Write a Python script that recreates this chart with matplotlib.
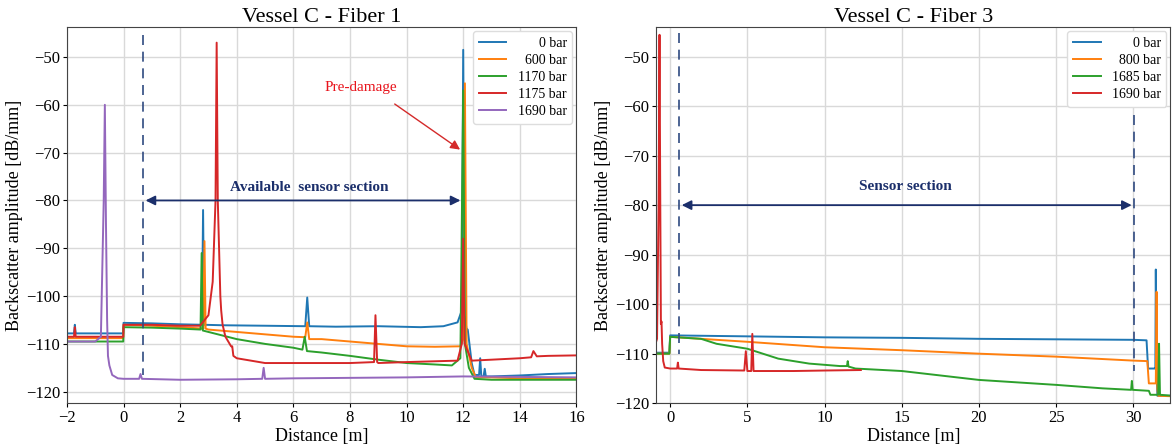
import numpy as np
import matplotlib.pyplot as plt

plt.rcParams['font.family'] = ['Liberation Serif', 'DejaVu Serif']

# ---- Fiber 1 traces (distance m, amplitude dB/mm)
f1_labels = ['0 bar', '600 bar', '1170 bar', '1175 bar', '1690 bar']

f1_0_x = [-2, -1.75, -1.72, -1.69, -0.01, 0.0, 1.0, 2.0, 2.77, 2.81, 2.85, 3.5, 5.0, 6.42, 6.49, 6.56,
          7.5, 9.0, 10.5, 11.3, 11.8, 11.95, 12.0, 12.05, 12.12, 12.16, 12.2, 12.3, 12.4, 12.56, 12.6,
          12.64, 12.72, 12.76, 12.8, 13.0, 14.0, 15.0, 16.0]
f1_0_y = [-107.8, -107.8, -106.0, -107.8, -107.8, -105.6, -105.7, -105.9, -106.0, -82.0, -106.0, -106.1,
          -106.2, -106.3, -100.3, -106.3, -106.4, -106.3, -106.5, -106.3, -105.5, -103.0, -48.5, -104.0,
          -107.0, -107.0, -109.0, -114.0, -116.5, -116.5, -113.0, -116.8, -116.8, -115.2, -116.8, -116.8,
          -116.6, -116.3, -116.1]

f1_600_x = [-2, -0.01, 0.0, 1.0, 2.0, 2.82, 2.86, 2.9, 3.0, 4.0, 5.0, 6.0, 6.42, 6.49, 6.56, 7.0, 8.0,
            9.0, 10.0, 11.0, 11.9, 12.0, 12.06, 12.12, 12.3, 12.45, 13.0, 14.0, 16.0]
f1_600_y = [-108.8, -108.8, -106.0, -106.2, -106.5, -106.8, -88.5, -106.8, -107.0, -107.5, -108.0, -108.5,
            -108.6, -105.5, -109.0, -109.0, -109.5, -110.0, -110.5, -110.6, -110.5, -109.0, -55.5, -110.0,
            -115.0, -117.0, -117.0, -117.2, -117.2]

f1_1170_x = [-2, -0.01, 0.0, 1.0, 2.0, 2.72, 2.76, 2.8, 3.0, 4.0, 5.0, 6.0, 6.32, 6.4, 6.48, 7.0, 8.0,
             9.0, 10.0, 11.0, 11.6, 11.9, 12.0, 12.06, 12.2, 12.4, 13.0, 14.0, 16.0]
f1_1170_y = [-109.5, -109.5, -106.5, -106.6, -106.8, -107.0, -91.0, -107.2, -107.5, -109.0, -110.0, -110.8,
             -111.2, -108.5, -111.5, -111.8, -112.5, -113.3, -114.0, -114.3, -114.5, -113.0, -57.0, -110.0,
             -115.0, -117.3, -117.5, -117.5, -117.5]

f1_1175_x = [-2, -1.75, -1.72, -1.69, -0.01, 0.0, 1.0, 2.0, 2.7, 3.0, 3.15, 3.25, 3.29, 3.33, 3.42, 3.45,
             3.5, 3.6, 3.8, 3.84, 3.88, 4.0, 4.5, 5.0, 8.0, 8.85, 8.9, 8.96, 9.0, 10.0, 11.8, 11.95, 12.0,
             12.05, 12.3, 13.0, 14.0, 14.4, 14.48, 14.6, 15.0, 16.0]
f1_1175_y = [-108.5, -108.5, -106.5, -108.5, -108.5, -106.0, -106.0, -106.2, -106.2, -104.0, -97.0, -80.0,
             -47.0, -80.0, -100.0, -103.0, -106.0, -108.5, -110.5, -110.5, -112.5, -113.0, -113.5, -114.0,
             -114.0, -113.8, -104.0, -113.8, -114.0, -113.8, -113.5, -110.0, -88.0, -110.0, -113.5, -113.3,
             -113.0, -112.8, -111.5, -112.6, -112.5, -112.4]

f1_1690_x = [-2, -1.0, -0.8, -0.7, -0.66, -0.62, -0.58, -0.55, -0.5, -0.4, -0.2, 0.0, 0.55, 0.6, 0.65,
             2.0, 4.0, 4.9, 4.95, 5.0, 6.0, 8.0, 10.0, 12.0, 14.0, 16.0]
f1_1690_y = [-109.5, -109.5, -108.5, -80.0, -60.0, -85.0, -105.0, -112.5, -114.5, -116.5, -117.2, -117.3,
             -117.3, -116.3, -117.3, -117.5, -117.4, -117.3, -115.0, -117.3, -117.2, -117.1, -117.0, -116.8,
             -116.9, -117.0]

# ---- Fiber 3 traces
f3_labels = ['0 bar', '800 bar', '1685 bar', '1690 bar']

f3_0_x = [-1.0, -0.05, 0.0, 5.0, 10.0, 15.0, 20.0, 25.0, 30.0, 30.85, 30.95, 31.4, 31.42, 31.45, 31.5,
          31.55, 32.5]
f3_0_y = [-109.8, -109.8, -106.3, -106.5, -106.7, -106.8, -107.0, -107.1, -107.2, -107.3, -113.0, -113.0,
          -113.0, -93.0, -113.0, -118.5, -118.5]

f3_800_x = [-1.0, -0.05, 0.0, 2.0, 5.0, 10.0, 15.0, 20.0, 25.0, 30.0, 30.9, 31.0, 31.45, 31.5, 31.55,
            31.6, 32.5]
f3_800_y = [-110.0, -110.0, -106.6, -107.0, -107.6, -108.7, -109.3, -110.0, -110.6, -111.4, -111.5, -116.0,
            -116.0, -97.5, -117.0, -118.5, -118.6]

f3_1685_x = [-1.0, -0.05, 0.0, 2.0, 3.0, 5.0, 7.0, 9.0, 11.0, 11.45, 11.5, 11.55, 12.0, 15.0, 20.0, 25.0,
             28.0, 29.85, 29.9, 29.95, 31.0, 31.1, 31.5, 31.6, 31.66, 31.72, 32.5]
f3_1685_y = [-110.0, -110.0, -106.6, -107.0, -108.0, -109.0, -111.0, -112.0, -112.5, -112.5, -111.5,
             -112.6, -113.0, -113.5, -115.3, -116.3, -117.0, -117.3, -115.5, -117.3, -117.5, -118.3,
             -118.3, -118.3, -108.0, -118.3, -118.5]

f3_1690_x = [-1.0, -0.85, -0.75, -0.69, -0.64, -0.6, -0.56, -0.52, -0.45, -0.35, 0.0, 0.45, 0.5, 0.55,
             2.0, 4.8, 4.9, 5.0, 5.25, 5.32, 5.4, 8.0, 10.0, 12.35]
f3_1690_y = [-108.5, -107.0, -80.0, -45.6, -80.0, -104.0, -103.5, -108.0, -111.5, -112.8, -113.0, -113.0,
             -111.8, -113.0, -113.3, -113.4, -109.5, -113.5, -113.5, -106.0, -113.5, -113.5, -113.4, -113.3]

fiber1 = [(f1_0_x, f1_0_y), (f1_600_x, f1_600_y), (f1_1170_x, f1_1170_y),
          (f1_1175_x, f1_1175_y), (f1_1690_x, f1_1690_y)]
fiber3 = [(f3_0_x, f3_0_y), (f3_800_x, f3_800_y), (f3_1685_x, f3_1685_y), (f3_1690_x, f3_1690_y)]

colors = ['#1f77b4', '#ff7f0e', '#2ca02c', '#d62728', '#9467bd']
navy = '#1b2f6b'

fig = plt.figure(figsize=(11.74, 4.48), dpi=100)
ax1 = fig.add_axes([0.057, 0.100, 0.434, 0.840])
ax2 = fig.add_axes([0.559, 0.100, 0.438, 0.840])


def pad(labels):
    # right-align legend labels with spaces, like the original
    w = max(len(l) for l in labels)
    return [' ' * (2 * (w - len(l))) + l for l in labels]


for ax, traces, labels in [(ax1, fiber1, f1_labels), (ax2, fiber3, f3_labels)]:
    for (x, y), lab, c in zip(traces, pad(labels), colors):
        ax.plot(x, y, color=c, lw=1.4, label=lab)
    ax.grid(True, color='#d9d9d9', lw=1.0)
    ax.set_axisbelow(True)
    ax.set_xlabel('Distance [m]', fontsize=13, labelpad=1)
    ax.set_ylabel('Backscatter amplitude [dB/mm]', fontsize=13, labelpad=2)
    ax.tick_params(labelsize=12, length=3, pad=2)
    for s in ax.spines.values():
        s.set_color('#444444')
    leg = ax.legend(loc='upper right', fontsize=10, handlelength=2.0, labelspacing=0.3,
                    borderaxespad=0.3, framealpha=1, edgecolor='#dddddd', fancybox=True)

# Fiber 1 axes
ax1.set_xlim(-2, 16)
ax1.set_ylim(-122.4, -43.7)
ax1.set_xticks(np.arange(-2, 17, 2))
ax1.set_yticks(np.arange(-120, -49, 10))
ax1.set_title('Vessel C - Fiber 1', fontsize=16, pad=3)
ax1.plot([0.68, 0.68], [-45.5, -116.5], color='#2f4a80', lw=1.2, ls=(0, (6, 4)))
ax1.annotate('', xy=(12.0, -80), xytext=(0.68, -80),
             arrowprops=dict(arrowstyle='<|-|>', color=navy, lw=1.3, mutation_scale=14))
ax1.text(6.55, -77.2, 'Available  sensor section', color=navy, fontsize=11, fontweight='bold',
         ha='center', va='center')
ax1.text(8.4, -56.3, 'Pre-damage', color='#e8141c', fontsize=11, ha='center', va='center')
ax1.annotate('', xy=(11.97, -69.7), xytext=(9.5, -59.5),
             arrowprops=dict(arrowstyle='-|>', color='#d42a2a', lw=1.0, mutation_scale=14))

# Fiber 3 axes
ax2.set_xlim(-0.9, 32.4)
ax2.set_ylim(-120, -44)
ax2.set_xticks(np.arange(0, 31, 5))
ax2.set_yticks(np.arange(-120, -49, 10))
ax2.set_title('Vessel C - Fiber 3', fontsize=16, pad=3)
ax2.plot([0.57, 0.57], [-45.2, -110.0], color='#2f4a80', lw=1.2, ls=(0, (6, 4)))
ax2.plot([30.07, 30.07], [-61.7, -113.5], color='#2f4a80', lw=1.2, ls=(0, (6, 4)))
ax2.annotate('', xy=(30.07, -80), xytext=(0.57, -80),
             arrowprops=dict(arrowstyle='<|-|>', color=navy, lw=1.3, mutation_scale=14))
ax2.text(15.2, -76.2, 'Sensor section', color=navy, fontsize=11, fontweight='bold',
         ha='center', va='center')

fig.savefig('out.png', dpi=100)
